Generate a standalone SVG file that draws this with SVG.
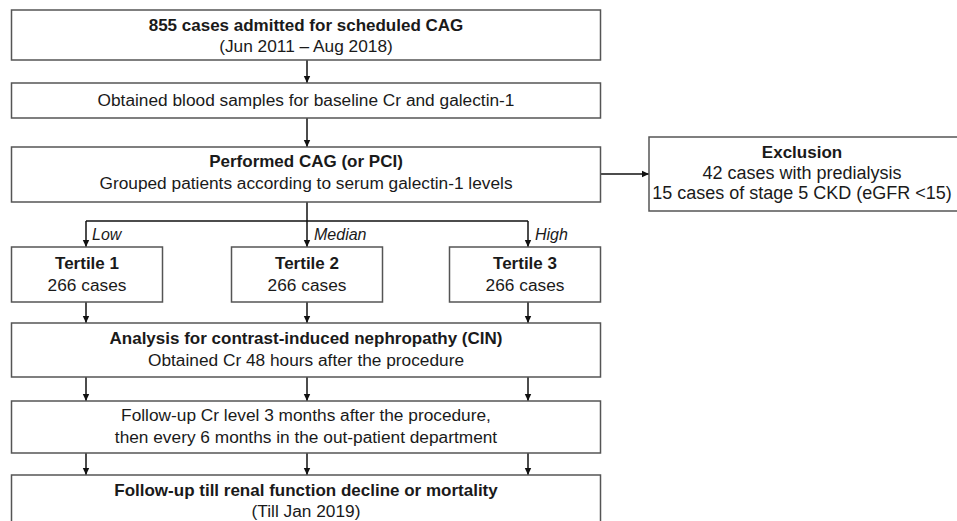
<svg xmlns="http://www.w3.org/2000/svg" width="957" height="521" viewBox="0 0 957 521">
<style>
.box{fill:#fff;stroke:#555;stroke-width:1.5}
text{font-family:"Liberation Sans",Arial,sans-serif;font-size:17px;fill:#1a1a1a;text-anchor:middle}
.b{font-weight:bold}
.i{font-style:italic;text-anchor:start;font-size:16px}
.x{font-size:18px}
.r{font-size:17.3px}
.c{stroke:#111;stroke-width:1.5;fill:none}
</style>
<defs>
<marker id="ah" markerWidth="8" markerHeight="8" refX="7" refY="4" orient="auto" markerUnits="userSpaceOnUse">
<path d="M0,0.8 L7,4 L0,7.2 z" fill="#111"/>
</marker>
</defs>
<rect width="957" height="521" fill="#fff"/>
<g id="connectors">
<path class="c" d="M307,60 V83" marker-end="url(#ah)"/>
<path class="c" d="M307,118 V147" marker-end="url(#ah)"/>
<path class="c" d="M600.5,174 H649" marker-end="url(#ah)"/>
<path class="c" d="M307,202 V221"/>
<path class="c" d="M86,221 H528"/>
<path class="c" d="M86,221 V247" marker-end="url(#ah)"/>
<path class="c" d="M307,221 V247" marker-end="url(#ah)"/>
<path class="c" d="M528,221 V247" marker-end="url(#ah)"/>
<path class="c" d="M86,302 V323" marker-end="url(#ah)"/>
<path class="c" d="M307,302 V323" marker-end="url(#ah)"/>
<path class="c" d="M528,302 V323" marker-end="url(#ah)"/>
<path class="c" d="M86,377 V401" marker-end="url(#ah)"/>
<path class="c" d="M307,377 V401" marker-end="url(#ah)"/>
<path class="c" d="M528,377 V401" marker-end="url(#ah)"/>
<path class="c" d="M86,453 V475" marker-end="url(#ah)"/>
<path class="c" d="M307,453 V475" marker-end="url(#ah)"/>
<path class="c" d="M528,453 V475" marker-end="url(#ah)"/>
<text class="i" x="92" y="240">Low</text>
<text class="i" x="314" y="240">Median</text>
<text class="i" x="535" y="240">High</text>
</g>
<g id="admitted">
<rect class="box" x="11.5" y="10" width="589" height="50"/>
<text class="b" x="306" y="31">855 cases admitted for scheduled CAG</text>
<text class="r" x="306" y="52">(Jun 2011 – Aug 2018)</text>
</g>
<g id="blood">
<rect class="box" x="11.5" y="83" width="589" height="35"/>
<text class="r" x="306" y="106">Obtained blood samples for baseline Cr and galectin-1</text>
</g>
<g id="cag">
<rect class="box" x="11.5" y="147" width="589" height="55"/>
<text class="b" x="306" y="167">Performed CAG (or PCI)</text>
<text class="r" x="306" y="189">Grouped patients according to serum galectin-1 levels</text>
</g>
<g id="exclusion">
<rect class="box" x="649" y="137" width="310" height="74"/>
<text class="b" x="802" y="158">Exclusion</text>
<text class="x" x="802" y="178.5">42 cases with predialysis</text>
<text class="x" x="802" y="199">15 cases of stage 5 CKD (eGFR &lt;15)</text>
</g>
<g id="tertile1">
<rect class="box" x="11.5" y="247" width="151" height="55"/>
<text class="b" x="87" y="269">Tertile 1</text>
<text class="r" x="87" y="291">266 cases</text>
</g>
<g id="tertile2">
<rect class="box" x="231.5" y="247" width="151" height="55"/>
<text class="b" x="307" y="269">Tertile 2</text>
<text class="r" x="307" y="291">266 cases</text>
</g>
<g id="tertile3">
<rect class="box" x="449.5" y="247" width="151" height="55"/>
<text class="b" x="525" y="269">Tertile 3</text>
<text class="r" x="525" y="291">266 cases</text>
</g>
<g id="cin">
<rect class="box" x="11.5" y="323" width="589" height="54"/>
<text class="b" x="306" y="344">Analysis for contrast-induced nephropathy (CIN)</text>
<text class="r" x="306" y="366">Obtained Cr 48 hours after the procedure</text>
</g>
<g id="followup">
<rect class="box" x="11.5" y="401" width="589" height="52"/>
<text class="r" x="306" y="421">Follow-up Cr level 3 months after the procedure,</text>
<text class="r" x="306" y="443">then every 6 months in the out-patient department</text>
</g>
<g id="final">
<rect class="box" x="11.5" y="475" width="589" height="60"/>
<text class="b" x="306" y="496">Follow-up till renal function decline or mortality</text>
<text class="r" x="306" y="517">(Till Jan 2019)</text>
</g>
</svg>
